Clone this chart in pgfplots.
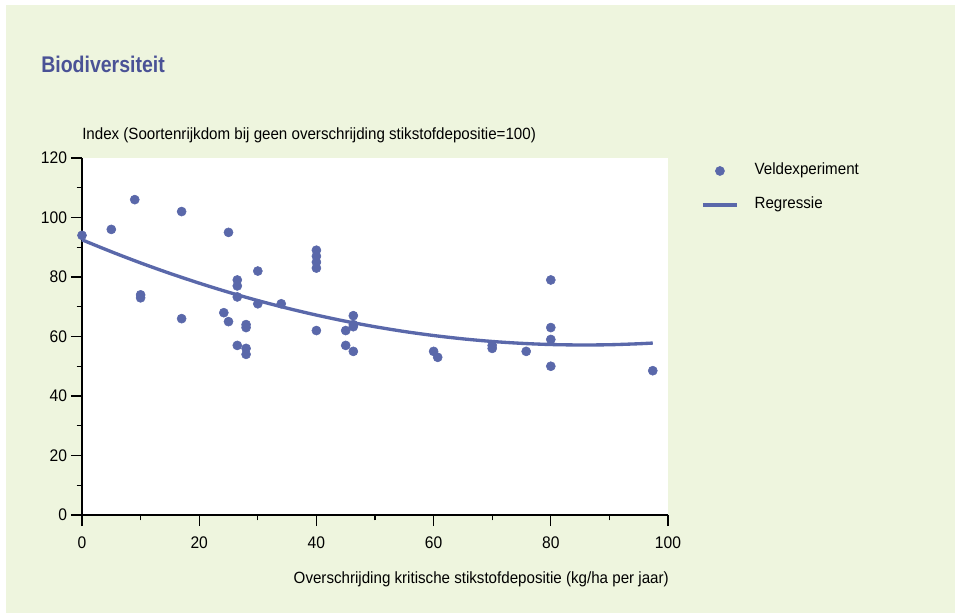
\documentclass[border=0pt]{standalone}
\usepackage{fontspec}
\setmainfont[FakeStretch=0.93]{Liberation Sans}
\newfontfamily\titlefont[FakeStretch=0.86]{Liberation Sans}
\usepackage{pgfplots}
\pgfplotsset{compat=1.18}
\definecolor{bg}{RGB}{238,245,222}
\definecolor{dotblue}{RGB}{90,104,170}
\definecolor{titleblue}{RGB}{74,82,150}
\pgfplotsset{
  dotlegend/.style={legend image code/.code={\draw[##1] plot coordinates {(12.75pt,0pt)};}},
  linelegend/.style={legend image code/.code={\draw[##1] (0pt,0pt) -- (25.5pt,0pt);}},
}

\begin{document}
\begin{tikzpicture}
\useasboundingbox (0,0) rectangle (716.25pt,459.75pt);
\fill[white] (0,0) rectangle (716.25pt,459.75pt);
\fill[bg] (4.5pt,0) rectangle (716.25pt,456pt);
\node[anchor=base west, inner sep=0pt, text=titleblue, font=\titlefont\bfseries\fontsize{17}{20}\selectfont] at (30.75pt,405pt) {Biodiversiteit};
\begin{axis}[
  scale only axis, width=439.5pt, height=267.75pt,
  at={(61.5pt,73.5pt)}, anchor=south west,
  xmin=0, xmax=100, ymin=0, ymax=120,
  axis x line*=bottom, axis y line*=left,
  axis background/.style={fill=white},
  xtick={0,20,...,100}, ytick={0,20,...,120},
  minor x tick num=1, minor y tick num=1,
  tick align=outside,
  major tick length=8.25pt, minor tick length=4pt,
  every tick/.style={black, line width=0.8pt},
  axis line style={black, line width=0.9pt},
  tick label style={font=\fontsize{12.6}{14}\selectfont},
  xticklabel style={yshift=-4.5pt},
  yticklabel style={xshift=0.5pt},
  /pgf/number format/assume math mode=true,
  clip=false,
  legend style={draw=none, fill=none, at={(rel axis cs:1.0495,0.916)}, anchor=west,
    font=\fontsize{12.2}{14}\selectfont, row sep=13.5pt, column sep=12pt,
    nodes={inner sep=0pt, text height=9pt, text depth=3pt}},
  legend cell align=left,
]
\addplot[only marks, mark=*, mark size=3.4pt, mark options={draw=dotblue, fill=dotblue}, dotlegend]
  coordinates {
  (0,94) (5,96) (9,106) (17,102) (25,95) (30,82) (26.5,79) (26.5,77) (26.5,73.3)
  (30,71) (34,71) (10,74) (10,73) (17,66) (24.2,68) (25,65) (28,64) (28,63)
  (26.5,57) (28,56) (28,54) (40,89) (40,87) (40,85) (40,83) (40,62)
  (46.3,67) (46.3,64) (46.3,63.3) (45,62) (45,57) (46.3,55) (60,55) (60.7,53)
  (70,57) (70,56) (75.8,55) (80,79) (80,63) (80,59) (80,50) (97.4,48.5)
  };
\addlegendentry{Veldexperiment}
\addplot[dotblue, line width=2.5pt, smooth, mark=none, linelegend]
  coordinates {
  (0,92.5) (5,88.5) (10,84.73) (15,81.21) (20,77.93) (25,74.88) (30,72.08)
  (35,69.52) (40,67.2) (45,65.12) (50,63.28) (55,61.68) (60,60.33) (65,59.21)
  (70,58.33) (75,57.7) (80,57.3) (85,57.15) (90,57.23) (95,57.56) (97.4,57.8)
  };
\addlegendentry{Regressie}
\node[anchor=base west, inner sep=0pt, font=\fontsize{12.2}{14}\selectfont] at (rel axis cs:0,1) [yshift=13.5pt] {Index (Soortenrijkdom bij geen overschrijding stikstofdepositie=100)};
\node[anchor=base east, inner sep=0pt, font=\fontsize{12.2}{14}\selectfont] at (rel axis cs:1,0) [yshift=-51pt, xshift=0.75pt] {Overschrijding kritische stikstofdepositie (kg/ha per jaar)};
\end{axis}
\end{tikzpicture}
\end{document}
